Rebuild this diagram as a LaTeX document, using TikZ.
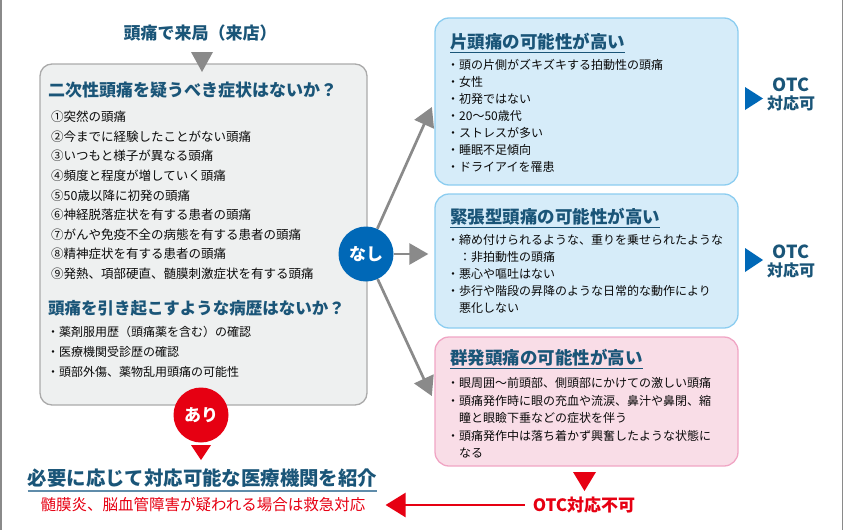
\documentclass[tikz,border=0pt]{standalone}
\usepackage{fontspec}
\setmainfont{Noto Sans CJK JP}
\usetikzlibrary{arrows.meta}
\definecolor{grayc}{RGB}{138,138,138}
\definecolor{lgray}{RGB}{170,170,170}
\definecolor{lfill}{RGB}{238,240,240}
\definecolor{bfill}{RGB}{214,236,249}
\definecolor{bline}{RGB}{140,205,240}
\definecolor{pfill}{RGB}{249,221,231}
\definecolor{pline}{RGB}{240,165,196}
\definecolor{bluec}{RGB}{0,104,183}
\definecolor{redc}{RGB}{230,0,18}
\definecolor{tealc}{RGB}{26,85,120}
\definecolor{ulc}{RGB}{95,140,170}
\definecolor{inkc}{RGB}{10,10,10}
\begin{document}
\begin{tikzpicture}[x=1pt,y=-1pt,
  hd/.style={text=tealc,inner sep=0pt,font=\fontsize{17}{20}\selectfont\bfseries},
  txt/.style={text=inkc,inner sep=0pt,anchor=west,font=\fontsize{12.5}{15}\selectfont},
  rtxt/.style={txt,font=\fontsize{12}{14}\selectfont},
  lbox/.style={draw=lgray,fill=lfill,line width=1.3pt,rounded corners=12pt},
  bbox/.style={draw=bline,fill=bfill,line width=1.3pt,rounded corners=14pt},
  pbox/.style={draw=pline,fill=pfill,line width=1.3pt,rounded corners=14pt},
  circ/.style={circle,minimum size=55pt,inner sep=0pt,text=white,font=\fontsize{17}{20}\selectfont\bfseries},
  garr/.style={draw=grayc,line width=2.7pt,-{Triangle[length=19pt,width=21pt]},shorten >=6pt},
  rarr/.style={draw=redc,line width=2.5pt,-{Triangle[length=20pt,width=24pt]}},
  ul/.style={draw=tealc,line width=1pt},
  otc/.style={text=tealc,align=center,inner sep=0pt,font=\fontsize{16}{18}\selectfont\bfseries}]
\useasboundingbox (0,0) rectangle (843,530);
\fill[grayc] (0,0) rectangle (2,530);
\fill[grayc] (841.5,0) rectangle (843,530);

% left column
\node[hd] (start) at (200,33) {頭痛で来局（来店）};
\node[lbox,minimum width=327pt,minimum height=341pt] (chk) at (203.5,234.5) {};
\fill[grayc] (191,52) -- (213,52) -- (202,72) -- cycle;
\node[hd,anchor=west] (q1) at (48,90) {二次性頭痛を疑うべき症状はないか？};
\foreach \t [count=\i] in {①突然の頭痛,②今までに経験したことがない頭痛,③いつもと様子が異なる頭痛,
  ④頻度と程度が増していく頭痛,⑤50歳以降に初発の頭痛,⑥神経脱落症状を有する患者の頭痛,
  ⑦がんや免疫不全の病態を有する患者の頭痛,⑧精神症状を有する患者の頭痛,⑨発熱、項部硬直、髄膜刺激症状を有する頭痛}
  \node[txt] (s\i) at (51,97.4+19.6*\i) {\t};
\node[hd,anchor=west,font=\fontsize{16.5}{20}\selectfont\bfseries] (q2) at (48,308) {頭痛を引き起こすような病歴はないか？};
\foreach \t [count=\i] in {・薬剤服用歴（頭痛薬を含む）の確認,・医療機関受診歴の確認,・頭部外傷、薬物乱用頭痛の可能性}
  \node[txt,font=\fontsize{12}{14}\selectfont] (h\i) at (47,312+20*\i) {\t};

\node[circ,fill=redc] (ari) at (201,415) {あり};
\fill[redc] (191,445) -- (211,445) -- (201,460) -- cycle;
\node[hd,font=\fontsize{19.4}{22}\selectfont\bfseries] (refer) at (202.5,478) {必要に応じて対応可能な医療機関を紹介};
\draw[draw=ulc,line width=1.2pt] ([yshift=-3.5pt]refer.south west) -- ([yshift=-3.5pt]refer.south east);
\node[text=redc,inner sep=0pt,font=\fontsize{15.5}{18}\selectfont] (emerg) at (203,505) {髄膜炎、脳血管障害が疑われる場合は救急対応};

% right column
\node[bbox,minimum width=303pt,minimum height=167pt] (mig) at (586.5,101.5) {};
\node[bbox,minimum width=303pt,minimum height=134pt] (tens) at (586.5,261) {};
\node[pbox,minimum width=303pt,minimum height=129pt] (clus) at (586.5,401.5) {};

\node[hd,anchor=west,font=\fontsize{17.5}{20}\selectfont\bfseries] (mig_h) at (450,42) {片頭痛の可能性が高い};
\draw[ul] ([yshift=-1.5pt]mig_h.south west) -- ([yshift=-1.5pt]mig_h.south east);
\foreach \t [count=\i] in {・頭の片側がズキズキする拍動性の頭痛,・女性,・初発ではない,・20〜50歳代,・ストレスが多い,・睡眠不足傾向,・ドライアイを罹患}
  \node[rtxt] (m\i) at (447,48+17*\i) {\t};

\node[hd,anchor=west,font=\fontsize{17.5}{20}\selectfont\bfseries] (tens_h) at (450,217) {緊張型頭痛の可能性が高い};
\draw[ul] ([yshift=-1.5pt]tens_h.south west) -- ([yshift=-1.5pt]tens_h.south east);
\foreach \t [count=\i] in {・締め付けられるような、重りを乗せられたような,　：非拍動性の頭痛,・悪心や嘔吐はない,
  ・歩行や階段の昇降のような日常的な動作により,　悪化しない}
  \node[rtxt] (t\i) at (447,223+17.1*\i) {\t};

\node[hd,anchor=west,font=\fontsize{17.5}{20}\selectfont\bfseries] (clus_h) at (450,358) {群発頭痛の可能性が高い};
\draw[ul] ([yshift=-1.5pt]clus_h.south west) -- ([yshift=-1.5pt]clus_h.south east);
\foreach \t [count=\i] in {・眼周囲〜前頭部、側頭部にかけての激しい頭痛,・頭痛発作時に眼の充血や流涙、鼻汁や鼻閉、縮,
  　瞳と眼瞼下垂などの症状を伴う,・頭痛発作中は落ち着かず興奮したような状態に,　なる}
  \node[rtxt] (c\i) at (447,365.5+17.5*\i) {\t};

\fill[bluec] (745,87) -- (745,110) -- (763,98.5) -- cycle;
\node[otc] (ok1) at (791,94) {{\fontsize{18}{18}\selectfont OTC}\\対応可};
\fill[bluec] (745,248) -- (745,272) -- (763,260) -- cycle;
\node[otc] (ok2) at (791,261) {{\fontsize{18}{18}\selectfont OTC}\\対応可};

\fill[redc] (573,472) -- (596,472) -- (584.5,491) -- cycle;
\node[text=redc,inner sep=0pt,font=\fontsize{17}{20}\selectfont\bfseries] (ng) at (584,505) {OTC対応不可};
\draw[rarr,shorten <=8pt,shorten >=20pt] (ng.west) -- (ng.west -| emerg.east);

% branch
\node[circ,fill=bluec] (nasi) at (366,254) {なし};
\draw[garr] (nasi) -- (mig.west);
\draw[garr] (nasi) -- (nasi -| tens.west);
\draw[garr] (nasi) -- (clus.west);
\end{tikzpicture}
\end{document}
